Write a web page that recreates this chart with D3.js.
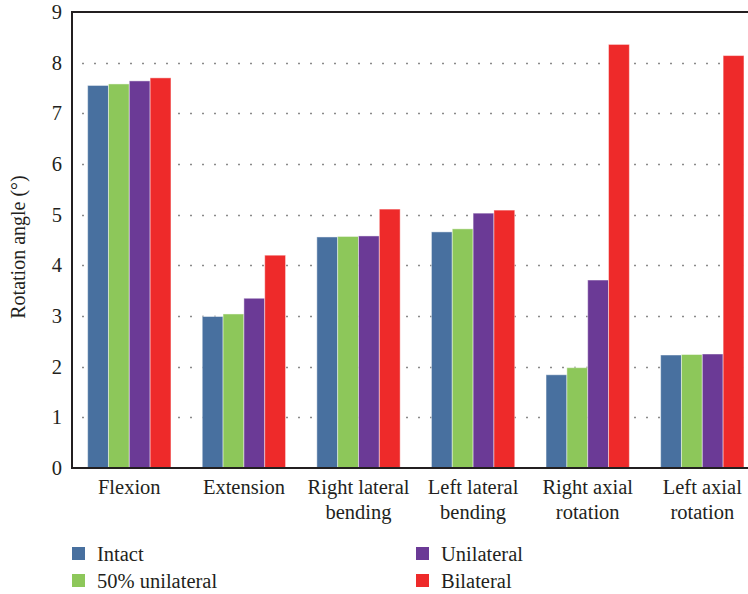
<!DOCTYPE html>
<html>
<head>
<meta charset="utf-8">
<script src="https://cdn.jsdelivr.net/npm/d3@7/dist/d3.min.js"></script>
<style>
  html, body { margin: 0; padding: 0; background: #fff; }
  svg { display: block; }
  text { font-family: "Liberation Serif", "DejaVu Serif", serif; fill: #231f20; }
</style>
</head>
<body>
<div id="chart"></div>
<script>
const categories = [["Flexion"], ["Extension"], ["Right lateral", "bending"], ["Left lateral", "bending"], ["Right axial", "rotation"], ["Left axial", "rotation"]];
const seriesNames = ["Intact", "50% unilateral", "Unilateral", "Bilateral"];
const seriesColors = ["#48709f", "#8dc75a", "#6b3a96", "#ee2a2a"];
const intact = [7.55, 2.99, 4.56, 4.66, 1.84, 2.23];
const halfUnilateral = [7.58, 3.04, 4.57, 4.72, 1.98, 2.24];
const unilateral = [7.64, 3.35, 4.58, 5.03, 3.71, 2.25];
const bilateral = [7.70, 4.20, 5.11, 5.09, 8.36, 8.14];
const yTicks = [0, 1, 2, 3, 4, 5, 6, 7, 8, 9];
const yLabel = "Rotation angle (°)";

const seriesValues = [intact, halfUnilateral, unilateral, bilateral];
const W = 748, H = 594;
const mLeft = 72, mTop = 12, mBottom = 468;
const step = 114.6;
const mRight = mLeft + step * categories.length;

const svg = d3.select("#chart").append("svg").attr("width", W).attr("height", H);

const x = d3.scaleBand().domain(d3.range(categories.length)).range([mLeft, mRight]).paddingInner(0.273).paddingOuter(0.1365);
const xs = d3.scaleBand().domain(d3.range(seriesNames.length)).range([0, x.bandwidth()]);
const y = d3.scaleLinear().domain([0, 9]).range([mBottom, mTop]);

// gridlines
svg.append("g").selectAll("line").data(yTicks.filter(t => t > 0 && t < 9)).join("line")
  .attr("x1", mLeft + 10).attr("x2", W)
  .attr("y1", d => Math.round(y(d)) + 0.5).attr("y2", d => Math.round(y(d)) + 0.5)
  .attr("stroke", "#8a8a8a").attr("stroke-width", 1.5).attr("stroke-dasharray", "2,10");

// bars
const groups = svg.append("g").selectAll("g").data(categories).join("g")
  .attr("transform", (d, i) => `translate(${x(i)},0)`);
groups.selectAll("rect").data((d, i) => seriesValues.map((s, k) => ({k, v: s[i]}))).join("rect")
  .attr("x", d => xs(d.k)).attr("width", xs.bandwidth())
  .attr("y", d => y(d.v)).attr("height", d => y(0) - y(d.v))
  .attr("fill", d => seriesColors[d.k])
  .attr("stroke", "rgba(255,255,255,0.45)").attr("stroke-width", 1);

// axes frame
svg.append("line").attr("x1", mLeft).attr("x2", W).attr("y1", mTop).attr("y2", mTop).attr("stroke", "#231f20").attr("stroke-width", 2);
svg.append("line").attr("x1", mLeft).attr("x2", W).attr("y1", mBottom).attr("y2", mBottom).attr("stroke", "#231f20").attr("stroke-width", 2);
svg.append("line").attr("x1", mLeft).attr("x2", mLeft).attr("y1", mTop - 1).attr("y2", mBottom + 1).attr("stroke", "#231f20").attr("stroke-width", 2);

// y axis tick labels
const yAxis = d3.axisLeft(y).tickValues(yTicks).tickSize(0).tickPadding(10).tickFormat(d3.format("d"));
const ya = svg.append("g").attr("transform", `translate(${mLeft},0)`).call(yAxis);
ya.select(".domain").remove();
ya.selectAll("text").attr("font-size", 20.5).attr("fill", "#231f20");

// x labels
const xl = svg.append("g").selectAll("text").data(categories).join("text")
  .attr("x", (d, i) => x(i) + x.bandwidth() / 2).attr("y", 494)
  .attr("text-anchor", "middle").attr("font-size", 20.5);
xl.selectAll("tspan").data(d => d).join("tspan")
  .attr("x", function() { return this.parentNode.getAttribute("x"); })
  .attr("dy", (d, i) => i === 0 ? 0 : 25).text(d => d);

// y label
svg.append("text").attr("transform", "translate(25,247) rotate(-90)")
  .attr("text-anchor", "middle").attr("font-size", 20).text(yLabel);

// legend
const legendPos = [[72, 547], [72, 574], [416, 547], [416, 574]];
const lg = svg.append("g").selectAll("g").data(seriesNames).join("g")
  .attr("transform", (d, i) => `translate(${legendPos[i][0]},${legendPos[i][1]})`);
lg.append("rect").attr("width", 13).attr("height", 13).attr("fill", (d, i) => seriesColors[i]);
lg.append("text").attr("x", 25).attr("y", 13.5).attr("font-size", 20.5).text(d => d);
</script>
</body>
</html>
